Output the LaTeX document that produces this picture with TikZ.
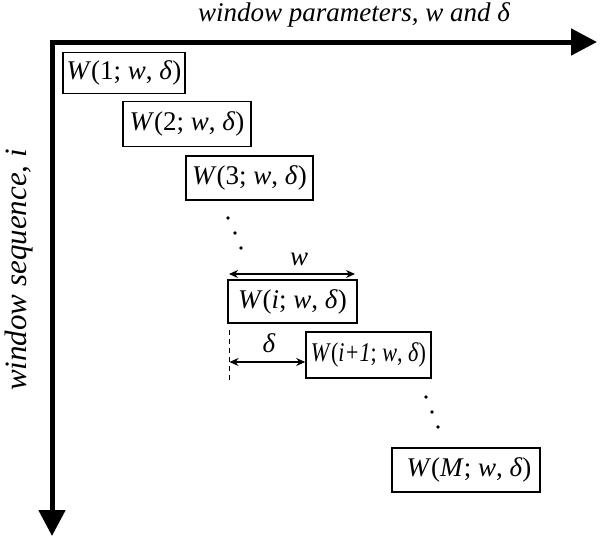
\documentclass[tikz,border=0pt]{standalone}
\usepackage{fontspec}
\usepackage{graphicx}
\setmainfont{Liberation Serif}
\usetikzlibrary{arrows.meta}
\begin{document}
\begin{tikzpicture}[x=1pt,y=-1pt,
  win/.style={draw, line width=1.6pt, inner sep=0pt, font=\fontsize{27}{31}\selectfont},
  axisline/.style={line width=5pt, -{Triangle[length=26pt,width=26pt]}},
  dimline/.style={line width=1.3pt, {Stealth[length=9pt,width=8pt]}-{Stealth[length=9pt,width=8pt]}},
  lbl/.style={font=\fontsize{27}{31}\selectfont\itshape, inner sep=0pt},
  dot/.style={fill, circle, inner sep=0pt, minimum size=3.6pt}]
\useasboundingbox (0,0) rectangle (601,541);
% axes
\coordinate (xs) at (49.5,42);
\coordinate (xe) at (597,42);
\coordinate (ys) at (52,39.5);
\coordinate (ye) at (52,536);
\draw[axisline] (xs) -- (xe);
\draw[axisline] (ys) -- (ye);
\node[lbl, anchor=base] (xl) at (354,21) {window parameters, w and δ};
\node[lbl, rotate=90, font=\fontsize{31}{35}\selectfont\itshape] (yl) at (19,270) {window sequence, i};
% windows
\node[win, minimum width=122pt, minimum height=41pt] (w1) at (124,73) {\textit{W}(1; \textit{w}, \textit{δ})};
\node[win, minimum width=128pt, minimum height=45pt] (w2) at (187,124) {\textit{W}(2; \textit{w}, \textit{δ})};
\node[win, minimum width=127pt, minimum height=44pt] (w3) at (249.5,178) {\textit{W}(3; \textit{w}, \textit{δ})};
\node[win, minimum width=129pt, minimum height=43pt] (wi) at (292.5,301.5) {\textit{W}(\textit{i}; \textit{w}, \textit{δ})};
\node[win, minimum width=125pt, minimum height=46pt] (wj) at (368.5,355) {\scalebox{0.82}[1]{\textit{W}(\textit{i+1}; \textit{w}, \textit{δ})}};
\node[win, minimum width=148pt, minimum height=44pt] (wm) at (466,470) {\hspace{6pt}\textit{W}(\textit{M}; \textit{w}, \textit{δ})};
% dots
\node[dot] (d1) at (228,218) {};
\node[dot] (d2) at (235,233) {};
\node[dot] (d3) at (241,248) {};
\node[dot] (d4) at (426,397) {};
\node[dot] (d5) at (432,412) {};
\node[dot] (d6) at (438,427) {};
% w dimension
\coordinate (wa) at (229,274);
\coordinate (wb) at (355,274);
\draw[dimline] (wa) -- (wb);
\node[lbl] (wl) at (299,259) {w};
% delta dimension
\coordinate (da) at (229.5,330);
\coordinate (db) at (229.5,382);
\draw[line width=1.3pt, dash pattern=on 5pt off 4pt] (da) -- (db);
\coordinate (dl) at (229.5,362);
\draw[dimline] (dl) -- (dl -| wj.west);
\node[lbl] (dlab) at (269,343) {δ};
\end{tikzpicture}
\end{document}
